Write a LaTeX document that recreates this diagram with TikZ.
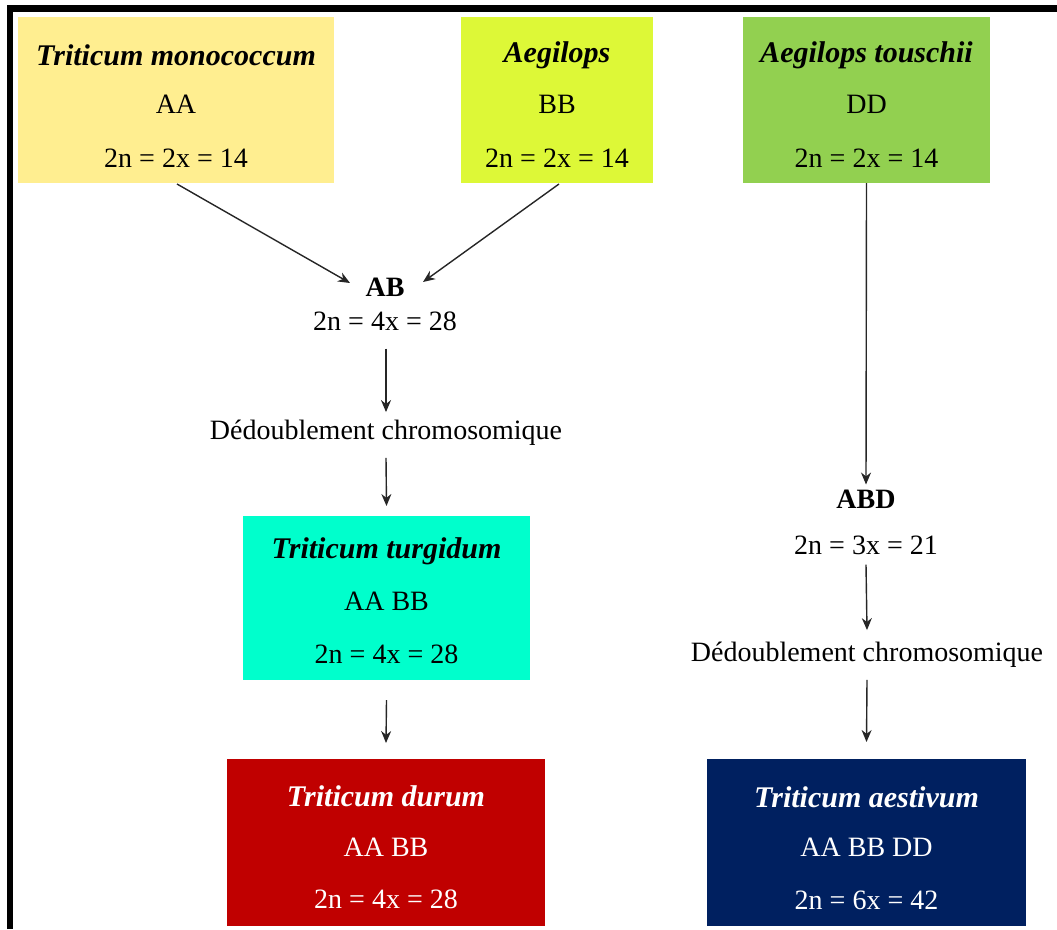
\documentclass[tikz,border=0pt]{standalone}
\usepackage{fontspec}
\setmainfont{Liberation Serif}
\usetikzlibrary{arrows.meta}
\definecolor{cmono}{HTML}{FFEE90}
\definecolor{caeg}{HTML}{DDF837}
\definecolor{ctou}{HTML}{92D050}
\definecolor{cturg}{HTML}{00FFCC}
\definecolor{cdur}{HTML}{C00000}
\definecolor{caes}{HTML}{002060}
\tikzset{
  box/.style={draw=none, inner sep=0pt, outer sep=0pt},
  ttl/.style={font=\fontsize{30}{34}\selectfont\bfseries\itshape, inner sep=0pt},
  txt/.style={font=\fontsize{28}{32}\selectfont, inner sep=0pt},
  btxt/.style={font=\fontsize{28}{32}\selectfont\bfseries, inner sep=0pt},
  arr/.style={-{Stealth[length=12pt,width=10pt]}, line width=1.4pt, draw=black!85},
  frame/.style={line width=6.5pt, black}
}
\begin{document}
\begin{tikzpicture}[x=1pt,y=-1pt]
\useasboundingbox (0,0) rectangle (1057,929);
% frame
\draw[frame] (10,929) -- (10,8.5) -- (1057,8.5);
% boxes
\node[box, fill=cmono, minimum width=316pt, minimum height=166pt, anchor=north west] (mono) at (18,17) {};
\node[box, fill=caeg, minimum width=192pt, minimum height=166pt, anchor=north west] (aeg) at (461,17) {};
\node[box, fill=ctou, minimum width=247pt, minimum height=166pt, anchor=north west] (tou) at (743,17) {};
\node[box, fill=cturg, minimum width=287pt, minimum height=164pt, anchor=north west] (turg) at (243,516) {};
\node[box, fill=cdur, minimum width=318pt, minimum height=167pt, anchor=north west] (dur) at (227,759) {};
\node[box, fill=caes, minimum width=319pt, minimum height=167pt, anchor=north west] (aes) at (707,759) {};
% box texts
\node[ttl] (monoT) at ([yshift=-38pt]mono.north) {Triticum monococcum};
\node[txt] (monoG) at ([yshift=-87pt]mono.north) {AA};
\node[txt] (monoN) at ([yshift=-141pt]mono.north) {2n = 2x = 14};
\node[ttl] (aegT) at ([yshift=-38pt]aeg.north) {Aegilops};
\node[txt] (aegG) at ([yshift=-87pt]aeg.north) {BB};
\node[txt] (aegN) at ([yshift=-141pt]aeg.north) {2n = 2x = 14};
\node[ttl] (touT) at ([yshift=-38pt]tou.north) {Aegilops touschii};
\node[txt] (touG) at ([yshift=-87pt]tou.north) {DD};
\node[txt] (touN) at ([yshift=-141pt]tou.north) {2n = 2x = 14};
\node[ttl] (turgT) at ([yshift=-35pt]turg.north) {Triticum turgidum};
\node[txt] (turgG) at ([yshift=-85pt]turg.north) {AA BB};
\node[txt] (turgN) at ([yshift=-138pt]turg.north) {2n = 4x = 28};
\node[ttl, text=white] (durT) at ([yshift=-37pt]dur.north) {Triticum durum};
\node[txt, text=white] (durG) at ([yshift=-88pt]dur.north) {AA BB};
\node[txt, text=white] (durN) at ([yshift=-140pt]dur.north) {2n = 4x = 28};
\node[ttl, text=white] (aesT) at ([yshift=-38pt]aes.north) {Triticum aestivum};
\node[txt, text=white] (aesG) at ([yshift=-88pt]aes.north) {AA BB DD};
\node[txt, text=white] (aesN) at ([yshift=-141pt]aes.north) {2n = 6x = 42};
% intermediate texts
\node[btxt] (ab) at (385,287) {AB};
\node[txt] (abN) at (385,321) {2n = 4x = 28};
\node[txt] (ded1) at (386,433) {Dédoublement chromosomique};
\node[btxt] (abd) at (866,499) {ABD};
\node[txt] (abdN) at (866,545) {2n = 3x = 21};
\node[txt] (ded2) at (867,655) {Dédoublement chromosomique};
% arrow end coordinates
\coordinate (m1) at (177,184);
\coordinate (m2) at (350,283);
\coordinate (a1) at (559,184);
\coordinate (a2) at (423,282);
% connectors
\draw[arr] (m1) -- (m2);
\draw[arr] (a1) -- (a2);
\draw[arr] ([yshift=-18pt]abN.south -| ded1.north) -- ([yshift=8pt]ded1.north);
\draw[arr] ([yshift=-12pt]ded1.south) -- ([yshift=10pt]turg.north);
\draw[arr] ([yshift=-20pt]turg.south) -- ([yshift=16pt]dur.north);
\draw[arr] (tou.south) -- ([yshift=5pt]abd.north);
\draw[arr] ([yshift=-10pt]abdN.south) -- ([yshift=12pt]ded2.north);
\draw[arr] ([yshift=-12pt]ded2.south) -- ([yshift=17pt]aes.north);
\end{tikzpicture}
\end{document}
